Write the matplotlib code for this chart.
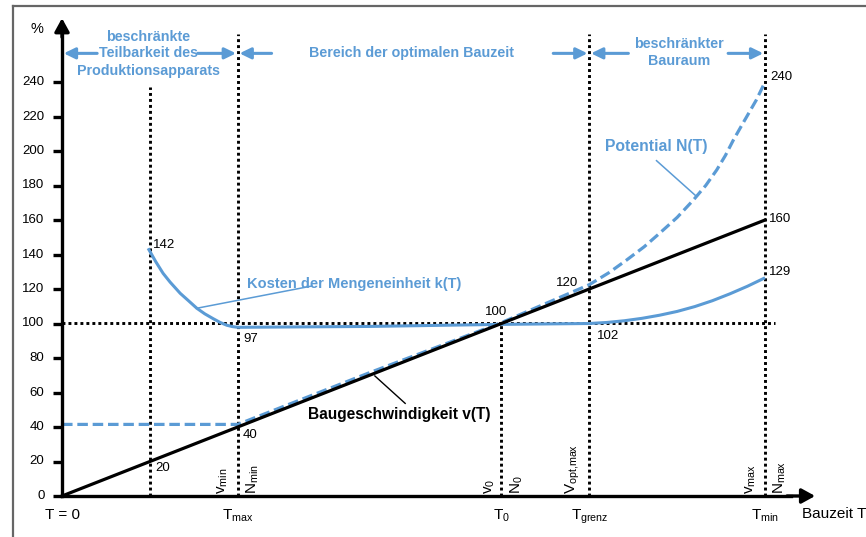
import matplotlib.pyplot as plt

plt.rcParams['font.family'] = ['Liberation Sans', 'DejaVu Sans']
plt.rcParams['mathtext.default'] = 'regular'

BLUE = '#5B9BD5'

# vertical marker positions (Bauzeit T, chart units) and their names
T_pos = [0, 40, 100, 120, 160]
T_names = ['T = 0', 'T$_{max}$', 'T$_0$', 'T$_{grenz}$', 'T$_{min}$']

# y axis ticks
y_ticks = list(range(0, 260, 20))

# Baugeschwindigkeit v(T)
v_T = [0, 160]
v_val = [0, 160]

# Kosten der Mengeneinheit k(T)
k_T = [19.6, 21.3, 23.0, 24.6, 26.9, 28.7, 30.7, 32.5, 34.4, 36.0, 37.5, 38.8, 40,
       70, 100, 120, 124, 128, 132, 136, 140, 144, 148, 152, 156, 160]
k_val = [143.6, 136.0, 129.1, 124.0, 117.5, 113.4, 108.8, 105.6, 102.8, 100.6, 99.0, 98.2, 97.8,
         98.3, 99.5, 100.0, 100.6, 101.6, 103.0, 104.8, 107.0, 109.8, 113.2, 117.2, 121.6, 126.5]

# Potential N(T)
N_T = [0, 40, 70, 100, 120, 124.5, 128.5, 132.5, 136, 140, 143.7, 146.5, 149, 151, 152.8, 155.4, 158, 160]
N_val = [41.5, 41.5, 71.5, 100.5, 122.5, 129.5, 136.8, 144.5, 152.3, 161.5, 171.6, 180.0, 189.0,
         197.5, 206.4, 218.0, 229.5, 240.0]

# point labels
pt_labels = [(21.2, 16.2, '20'), (41.2, 35.4, '40'), (41.2, 90.8, '97'),
             (20.6, 145.5, '142'), (121.8, 92.8, '102'), (160.9, 160.6, '160'),
             (160.9, 129.9, '129'), (161.3, 243.0, '240')]

sx, sy = 4.394, 1.725  # pixels per unit
fig = plt.figure(figsize=(8.66, 5.37), dpi=100)
ax = fig.add_axes([0, 0, 1, 1])
ax.set_xlim(-62 / sx, (866 - 62) / sx)
ax.set_ylim(-(537 - 496) / sy, 496 / sy)
ax.axis('off')

# frame (left and top only)
fig.add_artist(plt.Line2D([12.5 / 866, 12.5 / 866], [0, 1 - 6 / 537], color='#666666', lw=1.6))
fig.add_artist(plt.Line2D([12.5 / 866, 1], [1 - 6 / 537, 1 - 6 / 537], color='#666666', lw=1.6))

# dotted guide lines
dot = dict(color='black', lw=2.1, linestyle=(0, (1, 1.05)), dash_capstyle='butt')
ax.plot([20, 20], [0, 237], **dot)
for t in [40, 120, 160]:
    ax.plot([t, t], [0, 268], **dot)
ax.plot([100, 100], [0, 99], **dot)
ax.plot([0, 162.3], [100.4, 100.4], **dot)

# curves
ax.plot(v_T, v_val, color='black', lw=2.3, zorder=4)
ax.plot(N_T, N_val, color=BLUE, lw=2.3, linestyle=(0, (3.3, 1.5)), zorder=3)
ax.plot(k_T, k_val, color=BLUE, lw=2.2, zorder=3, solid_capstyle='butt')

# axes with arrows
ax.plot([0, 166], [0, 0], color='black', lw=2.4, zorder=5)
ax.plot([0, 0], [0, 270], color='black', lw=2.4, zorder=5)
head = dict(arrowstyle='-|>,head_length=0.4,head_width=0.22', color='black', lw=2.4,
            mutation_scale=20, shrinkA=0, shrinkB=0)
ax.annotate('', xy=(171.4, 0), xytext=(165, 0), arrowprops=head, zorder=5)
ax.annotate('', xy=(0, 277), xytext=(0, 266), arrowprops=head, zorder=5)

# y ticks
for y in y_ticks:
    ax.plot([-2.05, 0], [y, y], color='black', lw=2.4, solid_capstyle='butt')
    ax.text(-4.0, y, str(y), ha='right', va='center', fontsize=9.5)
ax.text(-5.8, 271, '%', ha='center', va='center', fontsize=10.5)

# x labels
for t, name in zip(T_pos, T_names):
    ax.text(t, -7.0, name, ha='center', va='top', fontsize=11)
ax.text(168.3, -10.5, 'Bauzeit T', ha='left', va='center', fontsize=11)

# rotated labels at the axis
rot = dict(rotation=90, va='bottom', fontsize=11)
ax.text(38.3, 1.0, 'v$_{min}$', ha='right', **rot)
ax.text(41.6, 1.0, 'N$_{min}$', ha='left', **rot)
ax.text(98.9, 1.0, 'v$_0$', ha='right', **rot)
ax.text(101.6, 1.0, 'N$_0$', ha='left', **rot)
ax.text(118.3, 1.0, 'V$_{opt{,}max}$', ha='right', **rot)
ax.text(158.5, 1.0, 'v$_{max}$', ha='right', **rot)
ax.text(161.6, 1.0, 'N$_{max}$', ha='left', **rot)

# point labels
for x, y, s in pt_labels:
    ax.text(x, y, s, ha='left', va='center', fontsize=9.5)
ax.text(98.8, 106.8, '100', ha='center', va='center', fontsize=9.5)
ax.text(115.0, 123.3, '120', ha='center', va='center', fontsize=9.5)

# region arrows at the top
barr = dict(arrowstyle='-|>,head_length=0.45,head_width=0.22', color=BLUE, lw=2.2,
            mutation_scale=15, shrinkA=0, shrinkB=0)
for tail, tip in [(8.0, 0.4), (30.9, 39.6), (47.7, 40.4), (111.8, 119.6),
                  (128.9, 120.4), (151.6, 159.6)]:
    ax.annotate('', xy=(tip, 256.6), xytext=(tail, 256.6), arrowprops=barr)

bt = dict(color=BLUE, fontweight='bold', fontsize=10.3, ha='center', va='center')
ax.text(19.6, 266.3, 'beschränkte', **bt)
ax.text(19.6, 256.6, 'Teilbarkeit des', **bt)
ax.text(19.6, 246.4, 'Produktionsapparats', **bt)
ax.text(79.5, 256.6, 'Bereich der optimalen Bauzeit', **bt)
ax.text(140.5, 262.3, 'beschränkter', **bt)
ax.text(140.5, 252.2, 'Bauraum', **bt)

# curve captions with leader lines
ax.plot([30.6, 56.8], [108.8, 121.7], color=BLUE, lw=1.1)
ax.text(42.0, 122.9, 'Kosten der Mengeneinheit k(T)', color=BLUE, fontweight='bold',
        fontsize=10.5, ha='left', va='center')
ax.plot([135.3, 144.3], [194.4, 173.9], color=BLUE, lw=1.1)
ax.text(123.6, 202.5, 'Potential N(T)', color=BLUE, fontweight='bold',
        fontsize=11.3, ha='left', va='center')
ax.plot([71.2, 78.1], [69.6, 53.7], color='black', lw=1.0)
ax.text(56.0, 47.0, 'Baugeschwindigkeit v(T)', color='black', fontweight='bold',
        fontsize=11.2, ha='left', va='center')

fig.savefig('out.png', dpi=100)
